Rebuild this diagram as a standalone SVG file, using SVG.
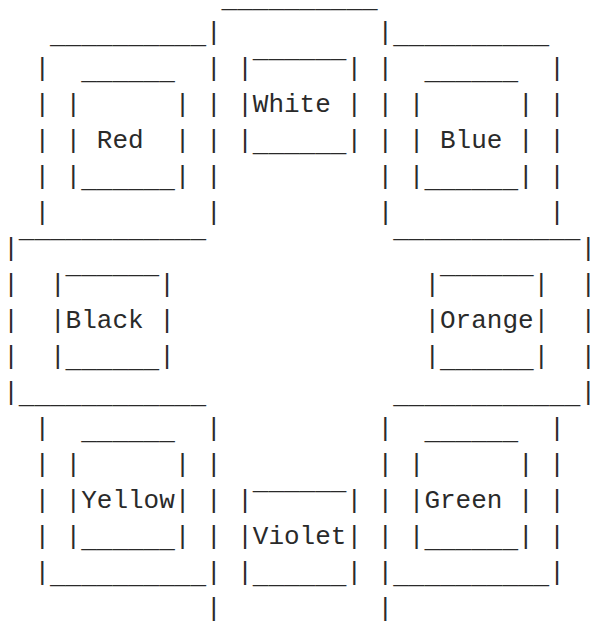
<svg xmlns="http://www.w3.org/2000/svg" width="592" height="624" viewBox="0 0 592 624" xml:space="preserve">
<style>
text { font-family: "Liberation Mono", "Courier New", monospace; font-size: 26px; fill: #2a2a2a; white-space: pre; }
</style>
<rect width="592" height="624" fill="#fff"/>
<g id="connectors">
<text x="221.6" y="7">__________</text>
<text x="50" y="43">__________</text><text x="206" y="40">|</text><text x="377.6" y="40">|</text><text x="393.2" y="43">__________</text>
<text x="34.4" y="76">|</text><text x="206" y="76">|</text><text x="377.6" y="76">|</text><text x="549.2" y="76">|</text>
<text x="34.4" y="112">|</text><text x="206" y="112">|</text><text x="377.6" y="112">|</text><text x="549.2" y="112">|</text>
<text x="34.4" y="148">|</text><text x="206" y="148">|</text><text x="377.6" y="148">|</text><text x="549.2" y="148">|</text>
<text x="34.4" y="184">|</text><text x="206" y="184">|</text><text x="377.6" y="184">|</text><text x="549.2" y="184">|</text>
<text x="34.4" y="220">|          |          |          |</text>
<text x="3.2" y="256">|</text><text x="18.8" y="259">‾‾‾‾‾‾‾‾‾‾‾‾</text><text x="393.2" y="259">‾‾‾‾‾‾‾‾‾‾‾‾</text><text x="580.4" y="256">|</text>
<text x="3.2" y="292">|</text><text x="580.4" y="292">|</text>
<text x="3.2" y="328">|</text><text x="580.4" y="328">|</text>
<text x="3.2" y="364">|</text><text x="580.4" y="364">|</text>
<text x="3.2" y="400">|</text><text x="18.8" y="403">____________</text><text x="393.2" y="403">____________</text><text x="580.4" y="400">|</text>
<text x="34.4" y="436">|</text><text x="206" y="436">|</text><text x="377.6" y="436">|</text><text x="549.2" y="436">|</text>
<text x="34.4" y="472">|</text><text x="206" y="472">|</text><text x="377.6" y="472">|</text><text x="549.2" y="472">|</text>
<text x="34.4" y="508">|</text><text x="206" y="508">|</text><text x="377.6" y="508">|</text><text x="549.2" y="508">|</text>
<text x="34.4" y="544">|</text><text x="206" y="544">|</text><text x="377.6" y="544">|</text><text x="549.2" y="544">|</text>
<text x="34.4" y="580">|</text><text x="50" y="583">__________</text><text x="206" y="580">|</text>
<text x="377.6" y="580">|</text><text x="393.2" y="583">__________</text><text x="549.2" y="580">|</text>
<text x="206" y="616">|</text><text x="377.6" y="616">|</text>
</g>
<g id="red">
<text x="81.2" y="79">______</text>
<text x="65.6" y="112">|      |</text>
<text x="65.6" y="148">| Red  |</text>
<text x="65.6" y="184">|</text><text x="81.2" y="187">______</text><text x="174.8" y="184">|</text>
</g>
<g id="white">
<text x="237.2" y="76">|</text><text x="252.8" y="79">‾‾‾‾‾‾</text><text x="346.4" y="76">|</text>
<text x="237.2" y="112">|White |</text>
<text x="237.2" y="148">|</text><text x="252.8" y="151">______</text><text x="346.4" y="148">|</text>
</g>
<g id="blue">
<text x="424.4" y="79">______</text>
<text x="408.8" y="112">|      |</text>
<text x="408.8" y="148">| Blue |</text>
<text x="408.8" y="184">|</text><text x="424.4" y="187">______</text><text x="518" y="184">|</text>
</g>
<g id="black">
<text x="50" y="292">|</text><text x="65.6" y="295">‾‾‾‾‾‾</text><text x="159.2" y="292">|</text>
<text x="50" y="328">|Black |</text>
<text x="50" y="364">|</text><text x="65.6" y="367">______</text><text x="159.2" y="364">|</text>
</g>
<g id="orange">
<text x="424.4" y="292">|</text><text x="440" y="295">‾‾‾‾‾‾</text><text x="533.6" y="292">|</text>
<text x="424.4" y="328">|Orange|</text>
<text x="424.4" y="364">|</text><text x="440" y="367">______</text><text x="533.6" y="364">|</text>
</g>
<g id="yellow">
<text x="81.2" y="439">______</text>
<text x="65.6" y="472">|      |</text>
<text x="65.6" y="508">|Yellow|</text>
<text x="65.6" y="544">|</text><text x="81.2" y="547">______</text><text x="174.8" y="544">|</text>
</g>
<g id="violet">
<text x="237.2" y="508">|</text><text x="252.8" y="511">‾‾‾‾‾‾</text><text x="346.4" y="508">|</text>
<text x="237.2" y="544">|Violet|</text>
<text x="237.2" y="580">|</text><text x="252.8" y="583">______</text><text x="346.4" y="580">|</text>
</g>
<g id="green">
<text x="424.4" y="439">______</text>
<text x="408.8" y="472">|      |</text>
<text x="408.8" y="508">|Green |</text>
<text x="408.8" y="544">|</text><text x="424.4" y="547">______</text><text x="518" y="544">|</text>
</g>
</svg>
